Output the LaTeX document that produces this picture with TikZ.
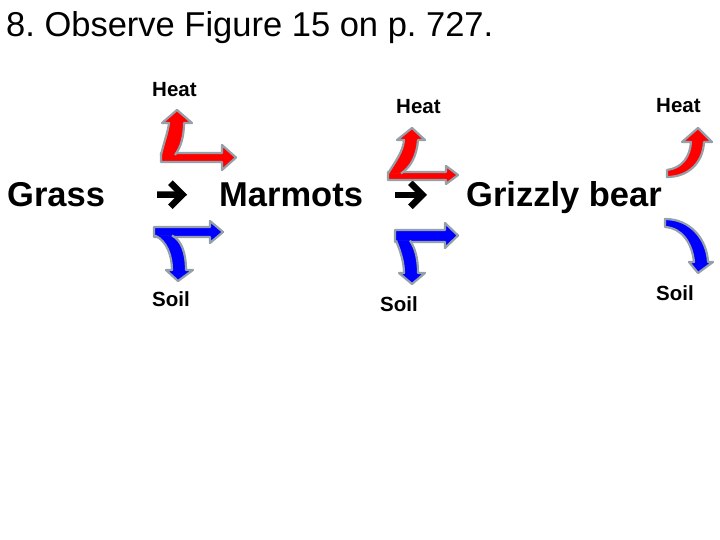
\documentclass[tikz,border=0pt]{standalone}
\usepackage{fontspec}
\setmainfont{Liberation Sans}
\usetikzlibrary{arrows.meta,positioning}
\definecolor{heatred}{RGB}{255,0,0}
\definecolor{soilblue}{RGB}{0,0,255}
\definecolor{rimgray}{RGB}{150,160,168}

\begin{document}
\frenchspacing
\begin{tikzpicture}[x=1pt, y=-1pt,
    heatarrow/.style={fill=heatred, draw=rimgray, line width=2.2pt, line join=round},
    soilarrow/.style={fill=soilblue, draw=rimgray, line width=2.2pt, line join=round},
    title/.style={font=\fontsize{34.5}{40}\selectfont, inner sep=0pt},
    level/.style={font=\fontsize{34.5}{40}\selectfont\bfseries, inner sep=0pt},
    loss/.style={font=\fontsize{20.5}{24}\selectfont\bfseries, inner sep=0pt},
    feeds/.style={line width=6.5pt, -{Straight Barb[length=12pt, width=24pt]}}]
  \fill[white] (0,0) rectangle (720,540);
  \useasboundingbox (0,0) rectangle (720,540);
  \node[title, anchor=base west] (title) at (6,37) {8. Observe Figure 15 on p. 727.};
  % food chain
  \node[level, anchor=base west] (grass) at (7,206.5) {Grass};
  \node[level, anchor=base west] (marmots) at (219,206.5) {Marmots};
  \node[level, anchor=base west] (bear) at (466,206.5) {Grizzly bear};
  \draw[feeds, shorten <=52pt, shorten >=32pt] (grass.east) -- (marmots.west);
  \draw[feeds, shorten <=32pt, shorten >=39pt] (marmots.east) -- (marmots.east -| bear.west);
  % losses
  \node[loss, anchor=base west] (heat1) at (152,96.5) {Heat};
  \node[loss, anchor=base west] (soil1) at (152,306.5) {Soil};
  \node[loss, anchor=base west] (heat2) at (396,113.5) {Heat};
  \node[loss, anchor=base west] (soil2) at (380,311) {Soil};
  \node[loss, anchor=base west] (heat3) at (656,113) {Heat};
  \node[loss, anchor=base west] (soil3) at (656,300) {Soil};
  % grass -> marmots
  \filldraw[heatarrow] (161,153) -- (222,153) -- (222,145) -- (236,157.5) -- (222,170) -- (222,162) -- (161,162) -- cycle;
  \filldraw[heatarrow] (161,155) .. controls (164,142) and (168,132) .. (169,123) -- (162,123) -- (177,110) -- (192,123) -- (184,123) .. controls (184,136) and (181,147) .. (175,155);
  \filldraw[soilarrow] (154,227) -- (210,227) -- (210,221) -- (223,232) -- (210,243) -- (210,237) -- (154,237) -- cycle;
  \filldraw[soilarrow] (155,235.5) .. controls (167,241) and (172,256) .. (172,270) -- (166,270) -- (178,281) -- (193,270) -- (186,270) .. controls (186,252) and (181,240) .. (172,235.5);
  % marmots -> bear
  \filldraw[heatarrow] (388,172) -- (446,172) -- (446,166) -- (458,175) -- (446,184) -- (446,180) -- (388,180) -- cycle;
  \filldraw[heatarrow] (388,173.5) .. controls (395,162) and (403,152) .. (404,140) -- (397,140) -- (412,128) -- (425,140) -- (418,140) .. controls (417,155) and (411,167) .. (401,173.5);
  \filldraw[soilarrow] (395,230) -- (445,230) -- (445,223) -- (458,235.5) -- (445,248) -- (445,242) -- (395,242) -- cycle;
  \filldraw[soilarrow] (396,240.5) .. controls (400,250) and (404,262) .. (404,273) -- (399,273) -- (412,284) -- (425,273) -- (418,273) .. controls (418,258) and (415,248) .. (410,240.5);
  % bear
  \filldraw[heatarrow] (667,170) .. controls (682,168) and (690,157) .. (691,142) -- (682,142) -- (698,128) -- (712,142) -- (704,142) .. controls (703,163) and (688,177) .. (667,177) -- cycle;
  \filldraw[soilarrow] (665,219) .. controls (691,219) and (707,240) .. (708,262) -- (713,262) -- (698,273) -- (689,262) -- (694,262) .. controls (692,243) and (682,228) .. (665,227) -- cycle;
\end{tikzpicture}
\end{document}
